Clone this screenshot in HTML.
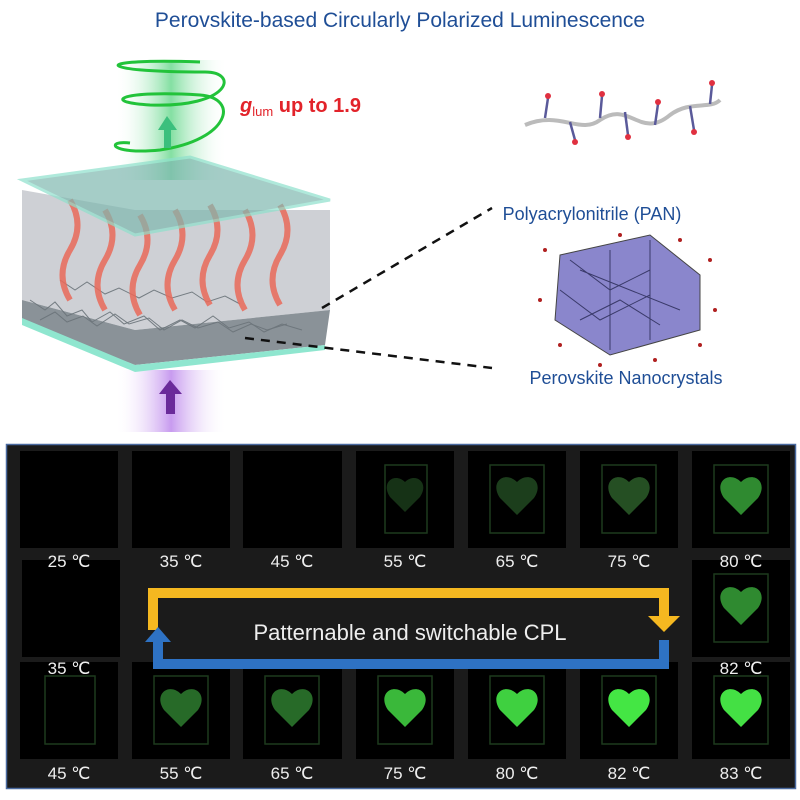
<!DOCTYPE html>
<html><head><meta charset="utf-8"><style>
body{margin:0;background:#fff;}
svg{display:block;font-family:"Liberation Sans",sans-serif;}
</style></head><body>
<svg width="800" height="800" viewBox="0 0 800 800" xmlns="http://www.w3.org/2000/svg">
<defs>
<linearGradient id="gb" x1="0" x2="1"><stop offset="0" stop-color="#fff" stop-opacity="0"/><stop offset="0.5" stop-color="#4fd27a"/><stop offset="1" stop-color="#fff" stop-opacity="0"/></linearGradient>
<linearGradient id="pb" x1="0" x2="1"><stop offset="0" stop-color="#fff" stop-opacity="0"/><stop offset="0.5" stop-color="#b070e8"/><stop offset="1" stop-color="#fff" stop-opacity="0"/></linearGradient>
</defs>
<text x="400" y="27" text-anchor="middle" font-size="21" fill="#1f4e96">Perovskite-based Circularly Polarized Luminescence</text>
<rect x="115" y="60" width="112" height="120" fill="url(#gb)" opacity="0.7"/>
<rect x="115" y="370" width="112" height="62" fill="url(#pb)" opacity="0.7"/>
<path d="M200 62 C90 58 90 72 205 72 C240 72 230 108 150 105 C100 102 120 90 200 95 C240 98 230 140 160 150 C110 155 105 140 130 143" fill="none" stroke="#22c33a" stroke-width="3"/>
<rect x="164" y="128" width="7" height="20" fill="#3bbf7d"/><polygon points="158,130 167,116 177,130" fill="#3bbf7d"/>
<rect x="166" y="392" width="9" height="22" fill="#6a2a9a"/><polygon points="159,394 170,380 182,394" fill="#6a2a9a"/>
<text x="240" y="112" font-size="20" font-weight="bold" fill="#e2232a"><tspan font-style="italic">g</tspan><tspan font-size="13" font-weight="normal" dy="4">lum</tspan><tspan dy="-4"> up to 1.9</tspan></text>
<polygon points="22,190 135,210 330,210 330,310 135,330 22,300" fill="#c9cbd0" opacity="0.9"/>
<polygon points="22,300 135,330 330,310 325,345 135,365 22,320" fill="#8a9298"/>
<g stroke="#6b747a" stroke-width="1" fill="none" opacity="0.9">
<path d="M30 300 l15 10 l10-8 l12 14 l15-6 l10 12 l18-10 l14 12 l20-8 l16 14 l20-10 l15 8 l18-12 l16 12 l20-6 l15 10 l18-8 l20 6"/>
<path d="M40 320 l15-8 l12 10 l16-6 l14 10 l18-12 l14 10 l20-6 l15 12 l18-10 l16 8 l20-6 l15 10 l18-8 l16 6 l20-6"/>
<path d="M60 280 l15 10 l12-8 l18 12 l14-6 l20 10 l15-8 l18 8 l20-6 l15 10 l18-6 l15 8"/>
</g>
<g fill="none" stroke="#ea6a5a" stroke-width="6" opacity="0.85">
<path d="M70 200 q15 25 0 50 q-15 25 0 50"/><path d="M105 210 q15 25 0 50 q-15 25 0 50"/>
<path d="M140 215 q15 25 0 50 q-15 25 0 50"/><path d="M175 210 q15 25 0 50 q-15 25 0 50"/>
<path d="M210 205 q15 25 0 50 q-15 25 0 50"/><path d="M245 210 q15 25 0 50 q-15 25 0 50"/>
<path d="M280 205 q15 25 0 50 q-15 25 0 50"/>
</g>
<polygon points="22,180 190,157 330,200 135,235" fill="#7fb8b0" opacity="0.7" stroke="#8ee0cc" stroke-width="3"/>
<polygon points="22,318 135,365 325,345 325,350 135,372 22,325" fill="#8fe6cf"/>
<line x1="322" y1="308" x2="492" y2="208" stroke="#111" stroke-width="2.5" stroke-dasharray="9,7"/>
<line x1="245" y1="338" x2="492" y2="368" stroke="#111" stroke-width="2.5" stroke-dasharray="9,7"/>
<path d="M525 125 C560 110 580 135 600 120 C630 100 640 140 670 115 C690 100 710 110 720 100" fill="none" stroke="#bbb" stroke-width="4"/>
<g stroke="#5a5a9a" stroke-width="2.5"><line x1="545" y1="118" x2="548" y2="98"/><line x1="570" y1="122" x2="575" y2="140"/><line x1="600" y1="118" x2="602" y2="96"/><line x1="625" y1="112" x2="628" y2="135"/><line x1="655" y1="125" x2="658" y2="104"/><line x1="690" y1="106" x2="694" y2="130"/><line x1="710" y1="104" x2="712" y2="85"/></g>
<g fill="#e03040"><circle cx="548" cy="96" r="3"/><circle cx="575" cy="142" r="3"/><circle cx="602" cy="94" r="3"/><circle cx="628" cy="137" r="3"/><circle cx="658" cy="102" r="3"/><circle cx="694" cy="132" r="3"/><circle cx="712" cy="83" r="3"/></g>
<text x="592" y="220" text-anchor="middle" font-size="18" fill="#1f4e96">Polyacrylonitrile (PAN)</text>
<polygon points="560,255 650,235 700,275 700,330 610,355 555,320" fill="#8a86cc" stroke="#444" stroke-width="1"/>
<g stroke="#3a3a6a" stroke-width="1" fill="none">
<path d="M570 260 l40 30 l40-20 M560 290 l40 30 l50-25 M580 320 l40-20 l40 25 M610 250 l0 100 M650 240 l0 100 M580 270 l100 40"/></g>
<g fill="#b02020"><circle cx="545" cy="250" r="2"/><circle cx="710" cy="260" r="2"/><circle cx="700" cy="345" r="2"/><circle cx="560" cy="345" r="2"/><circle cx="620" cy="235" r="2"/><circle cx="540" cy="300" r="2"/><circle cx="715" cy="310" r="2"/><circle cx="600" cy="365" r="2"/><circle cx="680" cy="240" r="2"/><circle cx="655" cy="360" r="2"/></g>
<text x="626" y="384" text-anchor="middle" font-size="18" fill="#1f4e96">Perovskite Nanocrystals</text>
<rect x="6.5" y="444.5" width="789" height="344" fill="#1b1b1b" stroke="#4a6aa0" stroke-width="1.5"/>
<g fill="#000">
<rect x="20" y="451" width="98" height="97"/><rect x="132" y="451" width="98" height="97"/><rect x="243" y="451" width="99" height="97"/><rect x="356" y="451" width="98" height="97"/><rect x="468" y="451" width="98" height="97"/><rect x="580" y="451" width="98" height="97"/><rect x="692" y="451" width="98" height="97"/>
<rect x="22" y="560" width="98" height="97"/><rect x="692" y="560" width="98" height="97"/>
<rect x="20" y="662" width="98" height="97"/><rect x="132" y="662" width="98" height="97"/><rect x="243" y="662" width="99" height="97"/><rect x="356" y="662" width="98" height="97"/><rect x="468" y="662" width="98" height="97"/><rect x="580" y="662" width="98" height="97"/><rect x="692" y="662" width="98" height="97"/>
</g>
<g fill="none" stroke="#1d3a1d" stroke-width="1.5">
<rect x="385" y="465" width="42" height="68"/><rect x="490" y="465" width="54" height="68"/><rect x="602" y="465" width="54" height="68"/><rect x="714" y="465" width="54" height="68"/>
<rect x="714" y="574" width="54" height="68"/><rect x="45" y="676" width="50" height="68"/><rect x="154" y="676" width="54" height="68"/><rect x="265" y="676" width="54" height="68"/><rect x="378" y="676" width="54" height="68"/><rect x="490" y="676" width="54" height="68"/><rect x="602" y="676" width="54" height="68"/><rect x="714" y="676" width="54" height="68"/>
</g>
<path d="M405 482 c-10-10-25 0-15 15 l15 15 l15-15 c10-15-5-25-15-15z" fill="#163216"/>
<path d="M517 482 c-12-12-28 0-17 16 l17 17 l17-17 c11-16-5-28-17-16z" fill="#1c3e1c"/>
<path d="M629 482 c-12-12-28 0-17 16 l17 17 l17-17 c11-16-5-28-17-16z" fill="#254f23"/>
<path d="M741 482 c-12-12-28 0-17 16 l17 17 l17-17 c11-16-5-28-17-16z" fill="#2f8a30"/>
<path d="M741 592 c-12-12-28 0-17 16 l17 17 l17-17 c11-16-5-28-17-16z" fill="#2f8a30"/>
<path d="M181 694 c-12-12-28 0-17 16 l17 17 l17-17 c11-16-5-28-17-16z" fill="#276a28"/>
<path d="M292 694 c-12-12-28 0-17 16 l17 17 l17-17 c11-16-5-28-17-16z" fill="#276a28"/>
<path d="M405 694 c-12-12-28 0-17 16 l17 17 l17-17 c11-16-5-28-17-16z" fill="#3ab83a"/>
<path d="M517 694 c-12-12-28 0-17 16 l17 17 l17-17 c11-16-5-28-17-16z" fill="#3fd040"/>
<path d="M629 694 c-12-12-28 0-17 16 l17 17 l17-17 c11-16-5-28-17-16z" fill="#44e644"/>
<path d="M741 694 c-12-12-28 0-17 16 l17 17 l17-17 c11-16-5-28-17-16z" fill="#44e044"/>
<g fill="#eee" font-size="17" text-anchor="middle">
<text x="69" y="567">25 ℃</text><text x="181" y="567">35 ℃</text><text x="292" y="567">45 ℃</text><text x="405" y="567">55 ℃</text><text x="517" y="567">65 ℃</text><text x="629" y="567">75 ℃</text><text x="741" y="567">80 ℃</text>
<text x="69" y="674">35 ℃</text><text x="741" y="674">82 ℃</text>
<text x="69" y="779">45 ℃</text><text x="181" y="779">55 ℃</text><text x="292" y="779">65 ℃</text><text x="405" y="779">75 ℃</text><text x="517" y="779">80 ℃</text><text x="629" y="779">82 ℃</text><text x="741" y="779">83 ℃</text>
</g>
<path d="M153 630 L153 593 L664 593 L664 618" fill="none" stroke="#f5b820" stroke-width="10"/>
<polygon points="648,616 680,616 664,632" fill="#f5b820"/>
<path d="M664 640 L664 664 L158 664 L158 640" fill="none" stroke="#2e72c4" stroke-width="10"/>
<polygon points="145,642 171,642 158,627" fill="#2e72c4"/>
<text x="410" y="640" text-anchor="middle" font-size="22" fill="#eee">Patternable and switchable CPL</text>
</svg>
</body></html>
